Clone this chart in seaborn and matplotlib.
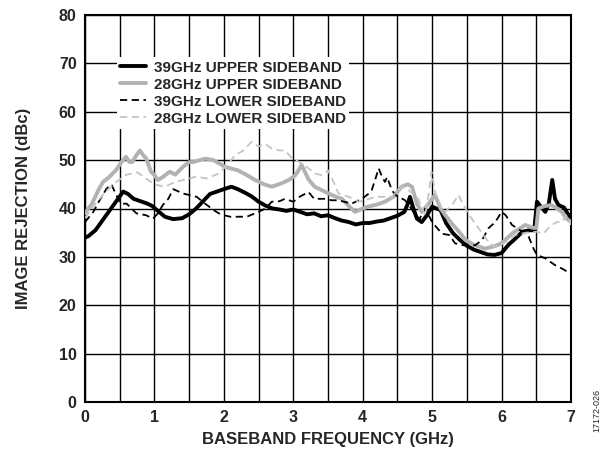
import seaborn as sns
import pandas as pd
import matplotlib.pyplot as plt

# Valores (frequência em GHz, rejeição em dBc)
f_39u = [0.00, 0.05, 0.15, 0.25, 0.35, 0.45, 0.55, 0.62, 0.70, 0.80,
         0.90, 0.97, 1.05, 1.15, 1.27, 1.40, 1.50, 1.60, 1.70, 1.80,
         1.90, 2.00, 2.11, 2.20, 2.30, 2.40, 2.50, 2.60, 2.70, 2.80,
         2.90, 3.00, 3.10, 3.20, 3.30, 3.40, 3.50, 3.60, 3.70, 3.80,
         3.90, 4.00, 4.10, 4.20, 4.30, 4.40, 4.50, 4.60, 4.65, 4.68,
         4.72, 4.78, 4.85, 4.92, 5.00, 5.06, 5.12, 5.20, 5.30, 5.40,
         5.50, 5.60, 5.70, 5.80, 5.90, 6.00, 6.10, 6.20, 6.30, 6.40,
         6.47, 6.51, 6.56, 6.63, 6.68, 6.73, 6.77, 6.82, 6.90, 6.95,
         7.00]
v_39u = [34.0, 34.3, 35.5, 37.5, 39.5, 41.5, 43.5, 43.0, 42.0, 41.5,
         41.0, 40.5, 39.5, 38.3, 37.8, 38.0, 38.8, 40.0, 41.5, 43.0,
         43.5, 44.0, 44.5, 44.0, 43.3, 42.5, 41.4, 40.6, 40.0, 39.8,
         39.5, 39.8, 39.3, 38.8, 39.0, 38.4, 38.6, 38.0, 37.5, 37.2,
         36.7, 37.0, 37.0, 37.3, 37.5, 38.0, 38.5, 39.3, 41.0, 42.4,
         40.5, 37.9, 37.2, 38.5, 40.4, 40.0, 39.7, 37.0, 34.9, 33.5,
         32.3, 31.5, 31.0, 30.5, 30.4, 30.8, 32.5, 33.8, 35.2, 35.5,
         35.5, 41.4, 40.5, 39.3, 41.0, 45.9, 42.0, 40.7, 40.2, 39.0,
         38.0]

f_28u = [0.00, 0.10, 0.20, 0.26, 0.35, 0.45, 0.52, 0.59, 0.64, 0.68,
         0.74, 0.79, 0.84, 0.88, 0.95, 1.00, 1.05, 1.12, 1.22, 1.30,
         1.41, 1.50, 1.56, 1.65, 1.74, 1.85, 2.02, 2.20, 2.32, 2.45,
         2.58, 2.69, 2.83, 2.95, 3.03, 3.08, 3.12, 3.17, 3.22, 3.31,
         3.45, 3.60, 3.70, 3.80, 3.89, 4.00, 4.08, 4.20, 4.32, 4.45,
         4.56, 4.65, 4.71, 4.78, 4.85, 4.95, 5.04, 5.12, 5.19, 5.30,
         5.40, 5.48, 5.60, 5.76, 5.90, 6.00, 6.15, 6.34, 6.45, 6.50,
         6.53, 6.62, 6.72, 6.80, 6.87, 6.93, 7.00]
v_28u = [39.0, 41.0, 44.0, 45.5, 46.5, 48.0, 49.5, 50.7, 49.6, 49.6,
         51.0, 52.0, 51.0, 50.4, 47.6, 46.9, 45.9, 46.5, 47.6, 47.0,
         48.6, 49.6, 49.6, 50.0, 50.3, 50.0, 48.6, 47.9, 47.0, 45.9,
         45.0, 44.5, 45.2, 46.0, 46.9, 48.0, 49.0, 47.5, 46.0, 44.5,
         43.5, 42.5, 42.0, 40.5, 39.3, 40.0, 40.4, 40.8, 41.4, 42.5,
         44.5, 45.0, 44.5, 41.0, 39.3, 41.0, 42.8, 40.0, 38.6, 36.6,
         35.0, 33.5, 32.5, 31.7, 32.2, 32.8, 34.8, 36.6, 36.0, 36.0,
         40.0, 40.5, 40.7, 40.0, 39.3, 38.0, 37.2]

f_39l = [0.00, 0.12, 0.21, 0.31, 0.38, 0.45, 0.51, 0.60, 0.74, 0.88,
         0.98, 1.05, 1.12, 1.20, 1.27, 1.35, 1.41, 1.50, 1.61, 1.73,
         1.85, 1.95, 2.09, 2.21, 2.33, 2.50, 2.60, 2.69, 2.80, 2.88,
         3.00, 3.10, 3.22, 3.30, 3.46, 3.55, 3.65, 3.84, 3.99, 4.08,
         4.13, 4.18, 4.23, 4.28, 4.32, 4.35, 4.42, 4.47, 4.61, 4.70,
         4.76, 4.82, 4.90, 5.00, 5.07, 5.14, 5.25, 5.33, 5.45, 5.62,
         5.72, 5.81, 5.91, 6.00, 6.06, 6.15, 6.27, 6.39, 6.46, 6.51,
         6.63, 6.77, 6.88, 7.00]
v_39l = [37.2, 39.3, 41.7, 44.1, 45.0, 42.8, 41.0, 41.0, 39.0, 38.6,
         37.9, 39.0, 40.7, 42.0, 44.0, 43.5, 43.1, 42.8, 42.4, 41.0,
         39.7, 38.8, 38.3, 38.3, 38.3, 39.3, 40.0, 41.4, 41.5, 42.0,
         41.4, 42.5, 43.4, 42.0, 42.0, 41.7, 41.7, 41.0, 42.0, 43.0,
         43.8, 46.0, 48.3, 46.5, 45.5, 46.5, 43.8, 42.8, 41.7, 40.0,
         38.6, 37.9, 40.0, 37.2, 36.0, 34.8, 34.5, 32.8, 32.4, 32.4,
         33.5, 35.9, 37.2, 39.3, 38.6, 36.6, 35.5, 34.2, 31.7, 30.4,
         29.7, 28.3, 27.5, 26.5]

f_28l = [0.00, 0.15, 0.30, 0.45, 0.60, 0.75, 0.90, 1.00, 1.15, 1.30,
         1.45, 1.60, 1.75, 1.92, 2.05, 2.16, 2.28, 2.40, 2.50, 2.59,
         2.69, 2.80, 2.88, 2.98, 3.10, 3.22, 3.32, 3.41, 3.50, 3.58,
         3.65, 3.80, 3.94, 4.05, 4.18, 4.30, 4.42, 4.56, 4.66, 4.80,
         4.90, 4.95, 4.99, 5.05, 5.14, 5.19, 5.30, 5.38, 5.45, 5.55,
         5.69, 5.79, 5.90, 6.05, 6.20, 6.35, 6.50, 6.60, 6.72, 6.80,
         6.87, 6.93, 7.00]
v_28l = [38.0, 41.0, 43.5, 45.5, 47.0, 47.5, 46.0, 45.0, 44.5, 45.5,
         46.0, 46.6, 46.2, 47.2, 49.0, 51.0, 52.0, 53.8, 52.8, 53.4,
         52.4, 52.0, 52.0, 50.4, 49.5, 48.3, 47.2, 46.9, 47.9, 45.5,
         43.1, 42.4, 41.4, 41.8, 42.4, 42.4, 42.4, 44.5, 43.8, 42.0,
         38.6, 43.0, 47.6, 43.0, 40.0, 39.3, 41.0, 42.8, 40.7, 38.3,
         35.5, 33.5, 32.0, 33.0, 34.5, 35.0, 35.2, 34.8, 36.6, 37.2,
         37.2, 38.6, 36.6]

x_ticks = [0, 1, 2, 3, 4, 5, 6, 7]
y_ticks = [0, 10, 20, 30, 40, 50, 60, 70, 80]

sns.set_style("white")
plt.rcParams['font.family'] = ['Liberation Sans', 'DejaVu Sans']
plt.rcParams['font.weight'] = 'bold'

fig = plt.figure(figsize=(6.05, 4.5), dpi=100)
ax = fig.add_axes([85 / 605, 1 - 402 / 450, 486 / 605, 387 / 450])

series = [
    (f_39u, v_39u, "39GHz UPPER SIDEBAND", "black", "-", 2.8),
    (f_28u, v_28u, "28GHz UPPER SIDEBAND", "#b2b2b2", "-", 2.8),
    (f_39l, v_39l, "39GHz LOWER SIDEBAND", "black", (0, (4, 2.5)), 1.3),
    (f_28l, v_28l, "28GHz LOWER SIDEBAND", "#c4c4c4", (0, (4, 2.5)), 1.3),
]
for f, v, nome, cor, estilo, lw in series:
    df = pd.DataFrame({"freq": f, "rej": v})
    sns.lineplot(data=df, x="freq", y="rej", ax=ax, color=cor, linestyle=estilo,
                 linewidth=lw, label=nome, sort=False, estimator=None, zorder=3)

ax.set_xlim(0, 7)
ax.set_ylim(0, 80)
ax.set_xticks([i * 0.5 for i in range(15)], minor=True)
ax.set_xticks(x_ticks)
ax.set_yticks(y_ticks)
ax.grid(True, which="both", axis="x", color="black", linewidth=1.0)
ax.grid(True, which="major", axis="y", color="black", linewidth=1.0)
ax.tick_params(which="both", length=0, labelsize=11.5, pad=6)
for lab in ax.get_xticklabels() + ax.get_yticklabels():
    lab.set_fontweight("bold")
for s in ax.spines.values():
    s.set_color("black")
    s.set_linewidth(1.5)

ax.set_xlabel("BASEBAND FREQUENCY (GHz)", fontsize=12, fontweight="bold", labelpad=5)
ax.set_ylabel("IMAGE REJECTION (dBc)", fontsize=12, fontweight="bold", labelpad=20)

leg = ax.legend(loc="upper left", bbox_to_anchor=(0.05, 0.91), fontsize=11,
                frameon=True, facecolor="white", edgecolor="none", framealpha=1,
                handlelength=1.7, handletextpad=0.5, labelspacing=0.2,
                borderpad=0.2, fancybox=False)
for t in leg.get_texts():
    t.set_fontweight("bold")

fig.text(597 / 605, 1 - 410 / 450, "17172-026", rotation=90, fontsize=6.5,
         fontweight="normal", ha="center", va="center")

plt.savefig("out.png", dpi=100)
